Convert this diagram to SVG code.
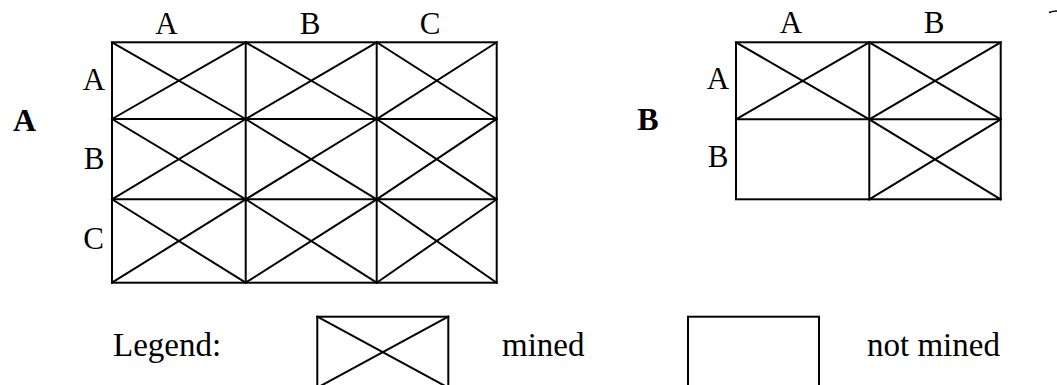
<svg xmlns="http://www.w3.org/2000/svg" width="1057" height="385" viewBox="0 0 1057 385">
<style>
.ln{stroke:#000;stroke-width:2;fill:none;stroke-linecap:square}
.t{font-family:"Liberation Serif","Times New Roman",serif;font-size:31px;fill:#000;text-anchor:middle}
.lg{font-family:"Liberation Serif","Times New Roman",serif;font-size:33px;fill:#000}
.bd{font-family:"Liberation Serif","Times New Roman",serif;font-size:32px;font-weight:bold;fill:#000;text-anchor:middle}
</style>
<rect width="1057" height="385" fill="#fff"/>
<g id="panelA">
<text class="bd" x="24.5" y="131">A</text>
<text class="t" x="166.5" y="33.5">A</text>
<text class="t" x="310" y="33.5">B</text>
<text class="t" x="430" y="33.5">C</text>
<text class="t" x="94" y="89.5">A</text>
<text class="t" x="94" y="168.5">B</text>
<text class="t" x="93.5" y="248.5">C</text>
<g class="ln">
<rect x="112" y="42.3" width="384.7" height="240.4"/>
<line x1="245.7" y1="42.3" x2="245.7" y2="282.7"/>
<line x1="376.7" y1="42.3" x2="376.7" y2="282.7"/>
<line x1="112" y1="119" x2="496.7" y2="119"/>
<line x1="112" y1="199.3" x2="496.7" y2="199.3"/>
<path d="M112 42.3L245.7 119M112 119L245.7 42.3M245.7 42.3L376.7 119M245.7 119L376.7 42.3M376.7 42.3L496.7 119M376.7 119L496.7 42.3"/>
<path d="M112 119L245.7 199.3M112 199.3L245.7 119M245.7 119L376.7 199.3M245.7 199.3L376.7 119M376.7 119L496.7 199.3M376.7 199.3L496.7 119"/>
<path d="M112 199.3L245.7 282.7M112 282.7L245.7 199.3M245.7 199.3L376.7 282.7M245.7 282.7L376.7 199.3M376.7 199.3L496.7 282.7M376.7 282.7L496.7 199.3"/>
</g>
</g>
<g id="panelB">
<text class="bd" x="648" y="130">B</text>
<text class="t" x="791" y="32.5">A</text>
<text class="t" x="934" y="32.5">B</text>
<text class="t" x="718" y="89">A</text>
<text class="t" x="718" y="167">B</text>
<g class="ln">
<rect x="736" y="42.3" width="264.7" height="157"/>
<line x1="869.3" y1="42.3" x2="869.3" y2="199.3"/>
<line x1="736" y1="119.3" x2="1000.7" y2="119.3"/>
<path d="M736 42.3L869.3 119.3M736 119.3L869.3 42.3M869.3 42.3L1000.7 119.3M869.3 119.3L1000.7 42.3M869.3 119.3L1000.7 199.3M869.3 199.3L1000.7 119.3"/>
</g>
<path d="M1049 12.5Q1053 11 1057 11" stroke="#000" stroke-width="1.5" fill="none"/>
</g>
<g id="legend">
<text class="lg" x="113" y="356">Legend:</text>
<g id="legend-mined">
<g class="ln">
<rect x="317.3" y="316.7" width="131" height="71"/>
<path d="M317.3 316.7L448.3 387.7M317.3 387.7L448.3 316.7"/>
</g>
<text class="lg" x="502" y="356">mined</text>
</g>
<g id="legend-notmined">
<rect class="ln" x="688" y="316.7" width="131" height="71"/>
<text class="lg" x="867" y="356">not mined</text>
</g>
</g>
</svg>
